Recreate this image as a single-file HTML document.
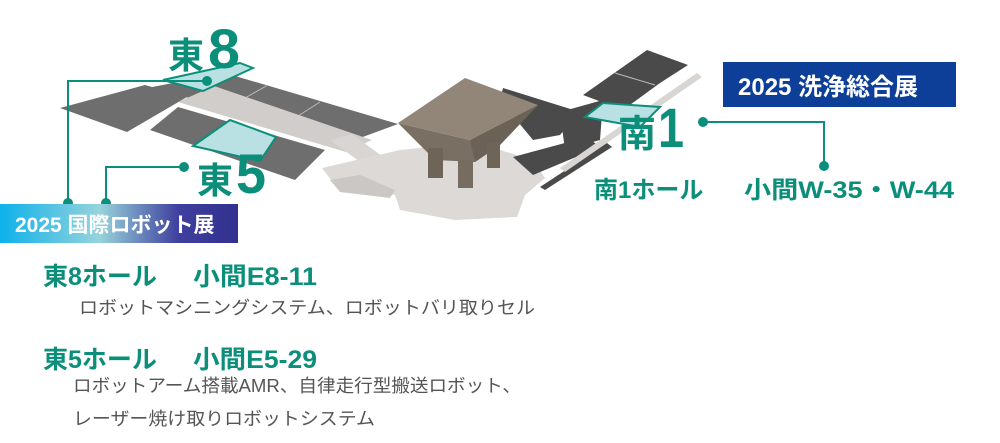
<!DOCTYPE html>
<html><head><meta charset="utf-8">
<style>
html,body{margin:0;padding:0;background:#fff;}
svg{display:block;}
.t{font-family:"Liberation Sans","Noto Sans CJK JP",sans-serif;}
</style></head>
<body>
<svg width="1000" height="443" viewBox="0 0 1000 443" xmlns="http://www.w3.org/2000/svg">
<defs>
<linearGradient id="g1" x1="0" x2="1" y1="0" y2="0">
<stop offset="0" stop-color="#0db1ea"/>
<stop offset="0.42" stop-color="#97d3dc"/>
<stop offset="0.75" stop-color="#3f3f9e"/>
<stop offset="1" stop-color="#33308f"/>
</linearGradient>
</defs>

<!-- left halls -->
<polygon points="60,108 145,85 187,97 127,132" fill="#6e6e6e"/>
<polygon points="147,88 225,73 398,124 360,138 190,98" fill="#6e6e6e"/>
<line x1="268" y1="85" x2="245" y2="98" stroke="#bbb" stroke-width="1"/>
<line x1="320" y1="102" x2="298" y2="116" stroke="#bbb" stroke-width="1"/>
<polygon points="150,130 178,107 325,150 295,180" fill="#6e6e6e"/>
<line x1="229" y1="121" x2="215" y2="140" stroke="#bbb" stroke-width="1"/>
<!-- walkway -->
<polygon points="178,102 214,86 372,140 346,152" fill="#d0cdca"/>
<!-- arm + plaza -->
<polygon points="330,140 352,134 398,168 382,178" fill="#d8d5d2"/>
<polygon points="322,168 365,158 400,150 440,146 500,150 533,160 545,178 525,195 517,217 455,220 400,210 395,195 335,185" fill="#dcd9d6"/>
<polygon points="330,180 360,175 395,190 390,198 340,192" fill="#cac7c4"/>
<!-- teal 東8 -->
<polygon points="163,80 240,63 253,68 203,91" fill="#b9e0e3" stroke="#0b8f7a" stroke-width="2"/>
<!-- teal 東5 -->
<polygon points="193,146 230,120 276,137 260,161" fill="#b9e0e3" stroke="#0b8f7a" stroke-width="2"/>

<!-- right halls -->
<polygon points="503,88 580,112 560,135 533,140 500,100" fill="#4a4a4a"/>
<polygon points="513,157 587,137 600,147 533,175" fill="#4a4a4a"/>
<polygon points="540,187 607,143 612,147 545,190" fill="#4a4a4a"/>
<polygon points="560,168 697,73 702,77 565,172" fill="#d8d5d2"/>
<polygon points="560,112 603,100 600,140 565,150" fill="#4a4a4a"/>
<polygon points="583,95 647,50 688,65 660,83 623,110" fill="#4a4a4a"/>
<line x1="615" y1="73" x2="655" y2="85" stroke="#bbb" stroke-width="1"/>
<polygon points="585,117 603,103 660,107 640,127" fill="#b9e0e3" stroke="#0b8f7a" stroke-width="2"/>

<!-- tower -->
<polygon points="398,123 470,140 538,105 500,145 475,162 435,160" fill="#7a6f63"/>
<polygon points="470,140 538,105 500,145 475,162" fill="#6b6156"/>
<polygon points="398,123 465,78 538,105 470,140" fill="#928678"/>
<rect x="428" y="148" width="15" height="30" fill="#6e6458"/>
<rect x="458" y="160" width="15" height="28" fill="#776c60"/>
<rect x="487" y="143" width="13" height="25" fill="#6e6458"/>

<!-- connectors -->
<g stroke="#0b8f7a" stroke-width="2" fill="none">
<polyline points="207,81 68,81 68,203"/>
<polyline points="184,167 106,167 106,203"/>
<polyline points="703,122 824,122 824,166"/>
</g>
<g fill="#0b8f7a">
<circle cx="207" cy="81" r="5"/><circle cx="68" cy="203" r="5"/>
<circle cx="184" cy="167" r="5"/><circle cx="106" cy="203" r="5"/>
<circle cx="703" cy="122" r="5"/><circle cx="824" cy="166" r="5"/>
</g>

<!-- big labels -->
<g class="t" fill="#0b8f7a" font-weight="bold">
<text x="168" y="68" font-size="36">東</text>
<text x="208" y="68" font-size="56" textLength="32" lengthAdjust="spacingAndGlyphs">8</text>
<text x="197" y="193" font-size="36">東</text>
<text x="236" y="193" font-size="56" textLength="30" lengthAdjust="spacingAndGlyphs">5</text>
<text x="618" y="147" font-size="38">南</text>
<text x="658" y="147" font-size="56" textLength="26" lengthAdjust="spacingAndGlyphs">1</text>
</g>

<!-- banners -->
<rect x="0" y="204" width="238" height="39" fill="url(#g1)"/>
<text class="t" x="15" y="232" font-size="21" font-weight="bold" fill="#fff">2025 国際ロボット展</text>
<rect x="723" y="62" width="233" height="45" fill="#0d3f99"/>
<text class="t" x="738" y="95" font-size="24" font-weight="bold" fill="#fff">2025 洗浄総合展</text>

<!-- right texts -->
<g class="t" fill="#0b8f7a" font-weight="bold" font-size="24">
<text x="594" y="198">南1ホール</text>
<text x="744" y="198" textLength="210" lengthAdjust="spacingAndGlyphs">小間W-35・W-44</text>
</g>

<!-- lower texts -->
<g class="t" fill="#0b8f7a" font-weight="bold" font-size="25">
<text x="43" y="285">東8ホール</text>
<text x="193" y="285" textLength="124" lengthAdjust="spacingAndGlyphs">小間E8-11</text>
<text x="43" y="368">東5ホール</text>
<text x="193" y="368" textLength="124" lengthAdjust="spacingAndGlyphs">小間E5-29</text>
</g>
<g class="t" fill="#555" font-size="18">
<text x="79" y="314" textLength="456" lengthAdjust="spacingAndGlyphs">ロボットマシニングシステム、ロボットバリ取りセル</text>
<text x="73" y="392" textLength="448" lengthAdjust="spacingAndGlyphs">ロボットアーム搭載AMR、自律走行型搬送ロボット、</text>
<text x="73" y="425" textLength="302" lengthAdjust="spacingAndGlyphs">レーザー焼け取りロボットシステム</text>
</g>
</svg>
</body></html>
